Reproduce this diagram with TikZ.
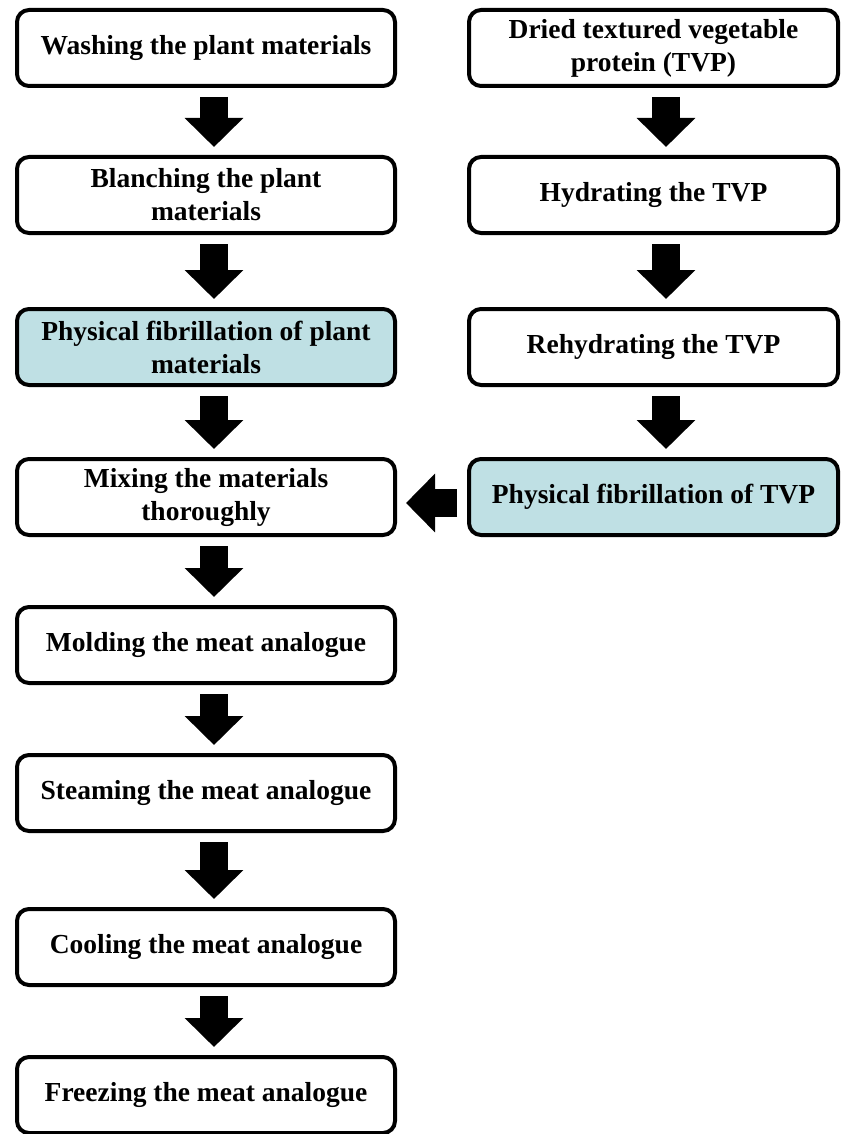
\documentclass[tikz,border=0pt]{standalone}
\usepackage{fontspec}
\setmainfont{Liberation Serif}
\usetikzlibrary{arrows.meta,calc}
\definecolor{fibfill}{RGB}{191,224,228}
\begin{document}
\begin{tikzpicture}[x=1pt,y=-1pt,
  box/.style={draw=black, line width=4pt, rounded corners=12pt, fill=white,
    minimum width=378pt, minimum height=76pt, align=center, inner sep=2pt,
    font=\fontsize{27.5}{33}\selectfont\bfseries},
  rbox/.style={box, minimum width=369pt},
  fib/.style={fill=fibfill},
  bigarrow/.style={line width=28pt, -{Triangle[width=57pt,length=29pt]}}]
\useasboundingbox (0,0) rectangle (841,1134);
% left column
\node[box] (l1) at (206,48) {Washing the plant materials};
\node[box] (l2) at (206,195) {Blanching the plant\\materials};
\node[box,fib] (l3) at (206,347) {Physical fibrillation of plant\\materials};
\node[box] (l4) at (206,497) {Mixing the materials\\thoroughly};
\node[box] (l5) at (206,645) {Molding the meat analogue};
\node[box] (l6) at (206,793) {Steaming the meat analogue};
\node[box] (l7) at (206,947) {Cooling the meat analogue};
\node[box] (l8) at (206,1095) {Freezing the meat analogue};
% right column
\node[rbox] (r1) at (653.5,48) {Dried textured vegetable\\protein (TVP)};
\node[rbox] (r2) at (653.5,195) {Hydrating the TVP};
\node[rbox] (r3) at (653.5,347) {Rehydrating the TVP};
\node[rbox,fib] (r4) at (653.5,497) {Physical fibrillation of TVP};
% left arrows
\foreach \a/\b in {l1/l2,l2/l3,l3/l4,l4/l5,l5/l6,l6/l7,l7/l8}
  \draw[bigarrow] ($(\a.south)+(8,9)$) -- ($(\b.north)+(8,-8)$);
% right arrows
\foreach \a/\b in {r1/r2,r2/r3,r3/r4}
  \draw[bigarrow] ($(\a.south)+(12.5,9)$) -- ($(\b.north)+(12.5,-8)$);
% horizontal arrow
\draw[bigarrow] ($(r4.west)+(-10,6)$) -- ($(l4.east)+(9,6)$);
\end{tikzpicture}
\end{document}
